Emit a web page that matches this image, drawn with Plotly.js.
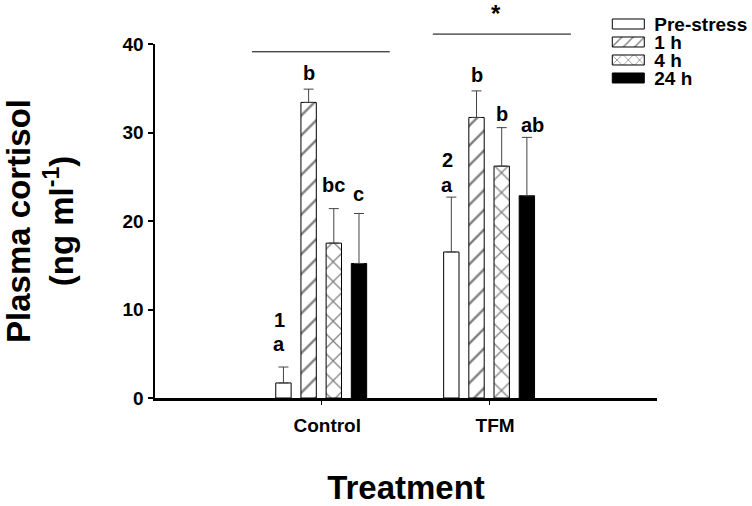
<!DOCTYPE html>
<html>
<head>
<meta charset="utf-8">
<script src="https://cdn.plot.ly/plotly-3.0.1.min.js"></script>
<style>
  html, body { margin: 0; padding: 0; background: #fff; }
  #chart { width: 752px; height: 506px; }
</style>
</head>
<body>
<div id="chart"></div>
<script>
// ---- data ----
var categories = ['Control', 'TFM'];
var seriesNames = ['Pre-stress', '1 h', '4 h', '24 h'];
var preStress = [1.7, 16.5];
var preStressErr = [1.8, 6.2];
var oneHour = [33.4, 31.7];
var oneHourErr = [1.5, 3.0];
var fourHour = [17.5, 26.2];
var fourHourErr = [3.9, 4.35];
var dayHour = [15.2, 22.85];
var dayHourErr = [5.65, 6.6];

// significance letters per category (same order as series)
var letters = [['a', 'b', 'bc', 'c'], ['a', 'b', 'b', 'ab']];
var letterY = [[6.06, 36.7, 24.1, 23.1], [24.1, 36.5, 32.1, 30.9]];
var groupNumbers = ['1', '2'];
var groupNumberY = [8.85, 26.9];

// ---- styling ----
var FONT = 'Liberation Sans, Arial, Helvetica, sans-serif';
var values = [preStress, oneHour, fourHour, dayHour];
var errs = [preStressErr, oneHourErr, fourHourErr, dayHourErr];
var fills = ['#ffffff', '#ffffff', '#ffffff', '#000000'];
var patterns = ['', '/', 'x', ''];

var traces = seriesNames.map(function (name, i) {
  var marker = {
    color: fills[i],
    line: { color: '#000', width: 1 }
  };
  if (patterns[i]) {
    marker.pattern = { shape: patterns[i], fgcolor: '#000', bgcolor: '#fff', size: 14, solidity: 0.17, fillmode: 'overlay' };
  }
  return {
    type: 'bar',
    name: name,
    x: categories,
    y: values[i],
    marker: marker,
    error_y: {
      type: 'data', symmetric: false,
      array: errs[i], arrayminus: errs[i].map(function () { return 0; }),
      color: '#444', thickness: 1, width: 5
    },
    hoverinfo: 'skip'
  };
});

var slot = 0.15; // group width 0.6 / 4 bars
var annotations = [];
categories.forEach(function (c, ci) {
  letters[ci].forEach(function (t, si) {
    annotations.push({
      x: ci + (si - 1.5) * slot, y: letterY[ci][si], xref: 'x', yref: 'y',
      text: t, showarrow: false, xanchor: 'center', yanchor: 'middle',
      xshift: (si === 0 ? -4 : (ci === 1 && si === 3 ? 6 : 0)),
      font: { family: FONT, size: 20, color: '#000', weight: 'bold' }
    });
  });
  annotations.push({
    x: ci - 1.5 * slot, y: groupNumberY[ci], xref: 'x', yref: 'y',
    text: groupNumbers[ci], showarrow: false, xanchor: 'center', yanchor: 'middle',
    xshift: -4,
    font: { family: FONT, size: 20, color: '#000', weight: 'bold' }
  });
});
annotations.push({
  x: 1.043, y: 1.087, xref: 'x', yref: 'paper', text: '*', showarrow: false,
  xanchor: 'center', yanchor: 'middle',
  font: { family: FONT, size: 24, color: '#000', weight: 'bold' }
});

var layout = {
  width: 752, height: 506,
  margin: { l: 155, r: 92, t: 39, b: 108, pad: 0 },
  paper_bgcolor: '#fff', plot_bgcolor: '#fff',
  barmode: 'group', bargap: 0.4, bargroupgap: 0.39,
  font: { family: FONT, color: '#000' },
  showlegend: true,
  legend: {
    x: 0.891, y: 1.09, xanchor: 'left', yanchor: 'top',
    bgcolor: 'rgba(0,0,0,0)', borderwidth: 0,
    font: { family: FONT, size: 19, color: '#000', weight: 'bold' },
    traceorder: 'normal'
  },
  xaxis: {
    type: 'category', range: [-0.99, 2.0],
    showline: true, linecolor: '#000', linewidth: 2.5,
    ticks: 'outside', ticklen: 4, tickwidth: 1, tickcolor: '#000',
    ticklabelshift: 6, ticklabelstandoff: 5,
    tickfont: { family: FONT, size: 19, color: '#000', weight: 'bold' },
    showgrid: false, zeroline: false, fixedrange: true,
    title: { text: 'Treatment', font: { family: FONT, size: 33, color: '#000', weight: 'bold' }, standoff: 46 }
  },
  yaxis: {
    range: [0, 40], tickvals: [0, 10, 20, 30, 40],
    showline: true, linecolor: '#000', linewidth: 2.5,
    ticks: 'outside', ticklen: 5, tickwidth: 2, tickcolor: '#000',
    tickfont: { family: FONT, size: 19, color: '#000', weight: 'bold' },
    showgrid: false, zeroline: false, fixedrange: true,
    title: { text: 'Plasma cortisol<br>(ng ml<sup>-1</sup>)', font: { family: FONT, size: 33, color: '#000', weight: 'bold' }, standoff: 40 }
  },
  shapes: [
    { type: 'line', xref: 'x', yref: 'paper', x0: -0.412, x1: 0.408, y0: 0.978, y1: 0.978, line: { color: '#000', width: 1 } },
    { type: 'line', xref: 'x', yref: 'paper', x0: 0.665, x1: 1.487, y0: 1.028, y1: 1.028, line: { color: '#000', width: 1 } }
  ],
  annotations: annotations
};

Plotly.newPlot('chart', traces, layout, { staticPlot: true, displayModeBar: false }).then(function (gd) {
  // compact legend rows and widen swatches to match the original figure
  gd.querySelectorAll('.legend [clip-path]').forEach(function (el) { el.removeAttribute('clip-path'); });
  var items = gd.querySelectorAll('.legend .traces');
  var row0 = null;
  items.forEach(function (g, i) {
    var tr = g.getAttribute('transform') || '';
    var m = tr.match(/translate\(\s*([-\d.]+)[ ,]+([-\d.]+)/);
    if (row0 === null) row0 = (m ? parseFloat(m[2]) : 0) - 7;
    var x0 = (m ? parseFloat(m[1]) : 0) + 6;
    g.setAttribute('transform', 'translate(' + x0 + ',' + (row0 + i * 18) + ')');
    var p = g.querySelector('.legendpoints path');
    if (p) p.setAttribute('d', 'M16,5H-16V-5H16Z');
    var t = g.querySelector('text.legendtext');
    if (t) t.setAttribute('x', 46);
  });
});
</script>
</body>
</html>
